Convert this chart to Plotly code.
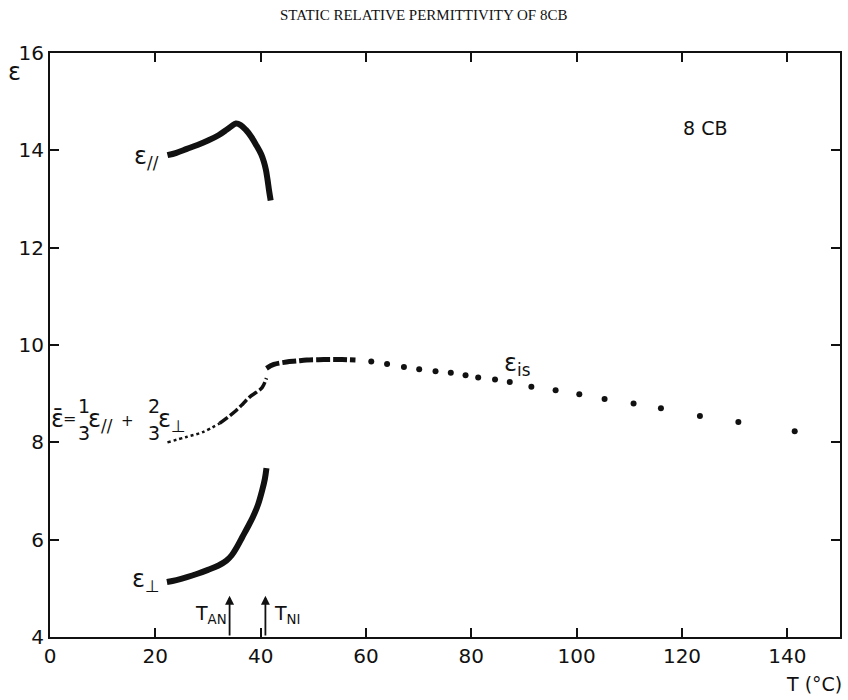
import plotly.graph_objects as go

# ---- data ----
T_par = [22.3, 24.0, 26.0, 28.0, 30.0, 32.0, 33.5, 34.5, 35.3, 36.2, 37.2, 38.2, 39.2, 40.1, 40.6, 41.0, 41.3, 41.6, 41.9]
eps_par = [13.90, 13.95, 14.03, 14.11, 14.20, 14.31, 14.42, 14.50, 14.55, 14.52, 14.42, 14.28, 14.10, 13.92, 13.77, 13.60, 13.40, 13.17, 12.97]

T_perp = [22.2, 24.0, 26.0, 28.0, 30.0, 32.0, 33.5, 34.5, 35.5, 36.5, 37.5, 38.5, 39.5, 40.3, 40.8, 41.1]
eps_perp = [5.13, 5.17, 5.23, 5.30, 5.38, 5.47, 5.57, 5.68, 5.85, 6.05, 6.25, 6.46, 6.72, 7.02, 7.25, 7.47]

T_mean_sm = [22.3, 25.9, 29.0, 32.2]
eps_mean_sm = [8.00, 8.11, 8.21, 8.39]

T_mean_n = [32.2, 33.8, 35.4, 36.7, 37.9, 39.2, 40.3, 41.1]
eps_mean_n = [8.39, 8.52, 8.66, 8.80, 8.93, 9.03, 9.13, 9.32]

T_iso_dense = [41.1, 42.5, 44.9, 46.8, 48.7, 52.0, 55.5, 58.0]
eps_iso_dense = [9.52, 9.60, 9.65, 9.67, 9.69, 9.70, 9.70, 9.69]

T_iso_dots = [61.0, 64.0, 67.2, 70.1, 73.2, 76.1, 78.9, 81.3, 84.5, 87.3, 91.4, 96.0, 100.5, 105.3, 110.8, 116.0, 123.4, 130.7, 141.4]
eps_iso_dots = [9.66, 9.61, 9.55, 9.50, 9.46, 9.43, 9.38, 9.33, 9.29, 9.24, 9.14, 9.07, 8.99, 8.89, 8.80, 8.70, 8.54, 8.42, 8.23]

T_AN = 34.1
T_NI = 40.9

x_ticks = [0, 20, 40, 60, 80, 100, 120, 140]
y_ticks = [4, 6, 8, 10, 12, 14, 16]

# ---- layout geometry (pixels) ----
L, R, TOP, BOT = 50, 842, 53, 637
W, H = 848, 700


def px(x):
    return (x - L) / (R - L)


def py(y):
    return (BOT - y) / (BOT - TOP)


FONT = "DejaVu Sans, Liberation Sans, Arial"
BLACK = "#111111"

fig = go.Figure()

fig.add_trace(go.Scatter(x=T_par, y=eps_par, mode="lines",
                         line=dict(color=BLACK, width=6, shape="spline"),
                         showlegend=False, hoverinfo="skip"))
fig.add_trace(go.Scatter(x=T_perp, y=eps_perp, mode="lines",
                         line=dict(color=BLACK, width=6, shape="spline"),
                         showlegend=False, hoverinfo="skip"))
fig.add_trace(go.Scatter(x=T_mean_sm, y=eps_mean_sm, mode="lines",
                         line=dict(color=BLACK, width=2.5, dash="dot", shape="spline"),
                         showlegend=False, hoverinfo="skip"))
fig.add_trace(go.Scatter(x=T_mean_n, y=eps_mean_n, mode="lines",
                         line=dict(color=BLACK, width=3.5, dash="10px,3px", shape="spline"),
                         showlegend=False, hoverinfo="skip"))
fig.add_trace(go.Scatter(x=T_iso_dense, y=eps_iso_dense, mode="lines",
                         line=dict(color=BLACK, width=5, dash="14px,3px", shape="spline"),
                         showlegend=False, hoverinfo="skip"))
fig.add_trace(go.Scatter(x=T_iso_dots, y=eps_iso_dots, mode="markers",
                         marker=dict(color=BLACK, size=6),
                         showlegend=False, hoverinfo="skip"))

ann = []


def text(x, y, s, size=18, font=FONT, xanchor="center", yanchor="middle"):
    ann.append(dict(x=px(x), y=py(y), xref="paper", yref="paper", text=s,
                    showarrow=False, xanchor=xanchor, yanchor=yanchor,
                    font=dict(size=size, family=font, color=BLACK)))


# title
text(424, 15, "STATIC RELATIVE PERMITTIVITY OF 8CB", size=15,
     font="Liberation Serif, DejaVu Serif, Times New Roman")
# axis labels
text(14, 72, "ε", size=24)
text(816, 684, "T (°C)", size=19)
# curve labels
text(707, 128, "8 CB", size=19)
text(147, 157, "ε<sub>//</sub>", size=24)
text(146, 580, "ε<sub>⊥</sub>", size=24)
text(518, 364, "ε<sub>is</sub>", size=24)
# mean formula
text(58, 419, "ε̄", size=24)
text(70, 418, "=", size=16)
text(84, 406, "1", size=19)
text(84, 433, "3", size=19)
text(101, 420, "ε<sub>//</sub>", size=24)
text(128, 421, "+", size=15)
text(154, 406, "2", size=19)
text(154, 433, "3", size=19)
text(172, 420, "ε<sub>⊥</sub>", size=24)
# transition labels
text(211, 614, "T<sub>AN</sub>", size=19)
text(288, 614, "T<sub>NI</sub>", size=19)

# arrows for transitions
for Tt in (T_AN, T_NI):
    ann.append(dict(x=Tt, y=4.85, ax=Tt, ay=4.0, xref="x", yref="y",
                    axref="x", ayref="y", showarrow=True, arrowhead=2,
                    arrowsize=1, arrowwidth=1.8, arrowcolor=BLACK, text=""))

fig.update_layout(
    width=W, height=H,
    margin=dict(l=L, r=W - R, t=TOP, b=H - BOT),
    plot_bgcolor="white", paper_bgcolor="white",
    annotations=ann,
    font=dict(family=FONT, size=18, color=BLACK),
)
fig.update_xaxes(range=[0, 150], tickvals=x_ticks, ticks="inside", ticklen=9,
                 tickwidth=2, tickcolor=BLACK, showline=True, linecolor=BLACK,
                 linewidth=2, mirror="allticks", showgrid=False, zeroline=False,
                 tickfont=dict(size=20, family=FONT, color=BLACK))
fig.update_yaxes(range=[4, 16], tickvals=y_ticks, ticks="inside", ticklen=9,
                 tickwidth=2, tickcolor=BLACK, showline=True, linecolor=BLACK,
                 linewidth=2, mirror="allticks", showgrid=False, zeroline=False,
                 tickfont=dict(size=20, family=FONT, color=BLACK))

fig.write_html("out.html")
